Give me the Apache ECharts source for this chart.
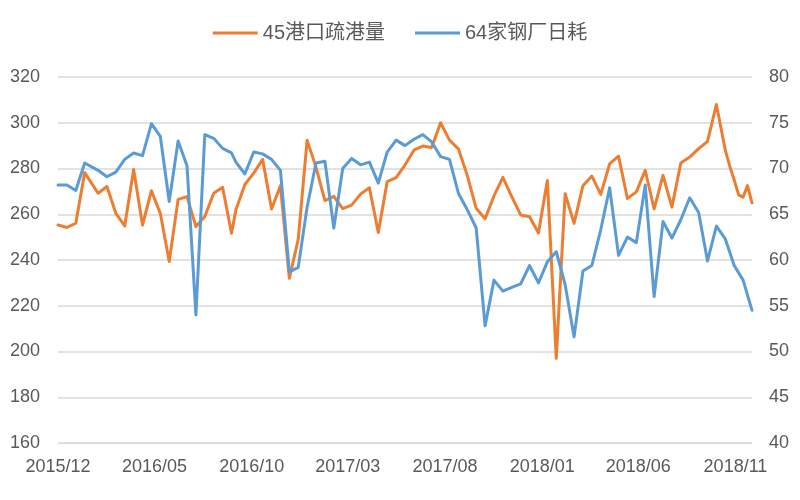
<!DOCTYPE html>
<html>
<head>
<meta charset="utf-8">
<script src="https://cdn.jsdelivr.net/npm/echarts@6/dist/echarts.min.js"></script>
<style>
html,body{margin:0;padding:0;background:#fff;}
#chart{width:800px;height:500px;}
</style>
</head>
<body>
<div id="chart"></div>
<script>
// survey dates (biweekly)
const dates = [
  '2015-12-18','2016-01-01','2016-01-15','2016-01-29','2016-02-19','2016-03-04','2016-03-18','2016-04-01',
  '2016-04-15','2016-04-29','2016-05-13','2016-05-27','2016-06-10','2016-06-24','2016-07-08','2016-07-22',
  '2016-08-05','2016-08-19','2016-09-02','2016-09-16','2016-09-23','2016-10-07','2016-10-21','2016-11-04',
  '2016-11-18','2016-12-02','2016-12-16','2016-12-30','2017-01-13','2017-01-27','2017-02-10','2017-02-24',
  '2017-03-10','2017-03-24','2017-04-07','2017-04-21','2017-05-05','2017-05-19','2017-06-02','2017-06-16',
  '2017-06-30','2017-07-14','2017-07-28','2017-08-11','2017-08-25','2017-09-08','2017-09-22','2017-10-06',
  '2017-10-20','2017-11-03','2017-11-17','2017-12-01','2017-12-15','2017-12-29','2018-01-12','2018-01-26',
  '2018-02-09','2018-02-23','2018-03-09','2018-03-23','2018-04-06','2018-04-20','2018-05-04','2018-05-18',
  '2018-06-01','2018-06-15','2018-06-29','2018-07-13','2018-07-27','2018-08-10','2018-08-24','2018-09-07',
  '2018-09-21','2018-10-05','2018-10-19','2018-11-02','2018-11-16','2018-11-30','2018-12-14'
];
// 64家钢厂日耗 (right axis)
const steelDailyUse = [
  68.2,68.2,67.6,70.6,69.8,69.1,69.6,71.0,
  71.7,71.4,74.9,73.5,66.4,73.0,70.3,54.0,
  73.7,73.3,72.2,71.7,70.7,69.4,71.8,71.6,
  71.0,69.8,58.7,59.2,65.8,70.6,70.8,63.5,
  70.0,71.1,70.4,70.7,68.4,71.8,73.1,72.5,
  73.2,73.7,72.9,71.3,71.0,67.3,65.5,63.5,
  52.8,57.8,56.6,57.0,57.4,59.4,57.5,59.8,
  60.9,57.3,51.6,58.8,59.4,63.3,67.9,60.5,
  62.5,61.9,68.2,56.0,64.2,62.4,64.4,66.8,
  65.2,59.9,63.7,62.3,59.4,57.8,54.5
];
// 45港口疏港量 dates: biweekly, weekly at the end
const portDates = dates.slice(0, 76).concat([
  '2018-11-09','2018-11-16','2018-11-23','2018-11-30','2018-12-07','2018-12-14'
]);
const portVolume = [
  255.3,254.2,256.1,278.2,269.2,272.1,260.4,254.9,
  279.6,255.3,270.3,260.4,239.3,266.5,267.7,254.6,
  259.0,269.2,271.8,251.7,262.0,273.0,278.0,284.0,
  262.3,272.4,232.0,249.0,292.4,280.5,266.0,267.8,
  262.5,264.0,268.8,271.6,252.0,274.3,276.0,281.5,
  288.0,289.8,289.2,300.0,292.4,288.6,277.0,262.6,
  258.0,268.0,276.1,267.7,259.7,258.9,251.8,274.8,
  197.0,269.0,256.0,272.5,276.7,268.7,282.0,285.4,
  266.9,269.8,279.2,262.3,277.0,263.1,282.4,285.0,
  288.7,291.8,308.0,288.0,
  281.0,275.0,268.5,267.5,272.5,265.0
];
const tickDates = ['2015-12-18','2016-05-18','2016-10-18','2017-03-18','2017-08-18','2018-01-18','2018-06-18','2018-11-18'];
const leftTicks = {min:160, max:320, interval:20};
const rightTicks = {min:40, max:80, interval:5};

const seriesNames = ['45港口疏港量','64家钢厂日耗'];
const colors = ['#ED7D31','#5B9BD5'];

function toTs(s){ const p = s.split('-'); return new Date(+p[0], +p[1]-1, +p[2]).getTime(); }
function fmt(v){ const d = new Date(v); const m = d.getMonth()+1; return d.getFullYear() + '/' + (m<10?'0'+m:m); }

const chart = echarts.init(document.getElementById('chart'), null, {renderer:'canvas'});
const labelFont = {color:'#595959', fontSize:18, fontFamily:'Liberation Sans, Arial, sans-serif'};
chart.setOption({
  animation:false,
  backgroundColor:'#fff',
  color: colors,
  legend:{
    top:18, left:'center',
    icon:'rect', itemWidth:45, itemHeight:3, itemGap:30,
    textStyle:{color:'#595959', fontSize:20, fontFamily:'Liberation Sans, Noto Sans CJK SC, sans-serif'},
    data: seriesNames
  },
  grid:{left:58, right:48, top:77, bottom:57, containLabel:false},
  xAxis:{
    type:'value',
    min: toTs(dates[0]), max: toTs(dates[dates.length-1]),
    axisLine:{show:true, lineStyle:{color:'#D9D9D9', width:1}},
    axisTick:{show:false},
    splitLine:{show:false},
    axisLabel:{
      ...labelFont, margin:15, hideOverlap:false,
      customValues: tickDates.map(toTs),
      formatter: fmt
    }
  },
  yAxis:[
    {type:'value', min:leftTicks.min, max:leftTicks.max, interval:leftTicks.interval, position:'left',
     axisLine:{show:false}, axisTick:{show:false},
     axisLabel:{...labelFont, margin:18},
     splitLine:{lineStyle:{color:'#D9D9D9', width:1.5}}},
    {type:'value', min:rightTicks.min, max:rightTicks.max, interval:rightTicks.interval, position:'right',
     axisLine:{show:false}, axisTick:{show:false},
     axisLabel:{...labelFont, margin:17},
     splitLine:{show:false}}
  ],
  series:[
    {name:seriesNames[0], type:'line', yAxisIndex:0, symbol:'none',
     lineStyle:{width:3, color:colors[0], join:'round', cap:'round'},
     data: portDates.map((d,i)=>[toTs(d), portVolume[i]])},
    {name:seriesNames[1], type:'line', yAxisIndex:1, symbol:'none',
     lineStyle:{width:3, color:colors[1], join:'round', cap:'round'},
     data: dates.map((d,i)=>[toTs(d), steelDailyUse[i]])}
  ]
});
</script>
</body>
</html>
